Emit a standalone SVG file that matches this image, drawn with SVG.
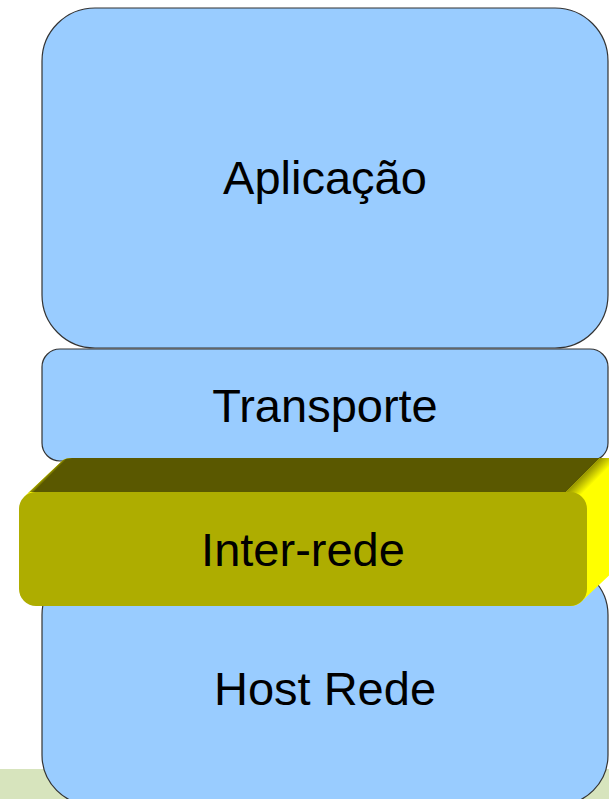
<svg xmlns="http://www.w3.org/2000/svg" width="609" height="799" viewBox="0 0 609 799">
<defs>
<style>
.layer{fill:#99ccff;stroke:#333333;stroke-width:1.2}
.lbl{font-family:"Liberation Sans",Arial,sans-serif;font-size:47px;fill:#000000;text-anchor:middle}
</style>
<linearGradient id="bevR" gradientUnits="userSpaceOnUse" x1="578" y1="470" x2="592" y2="484">
<stop offset="0" stop-color="#5a5800"/>
<stop offset="1" stop-color="#ffff00"/>
</linearGradient>
<linearGradient id="bevL" gradientUnits="userSpaceOnUse" x1="42" y1="474" x2="47" y2="479">
<stop offset="0" stop-color="#ffff00"/>
<stop offset="1" stop-color="#5a5800"/>
</linearGradient>
</defs>
<rect width="609" height="799" fill="#ffffff"/>
<rect x="0" y="769" width="609" height="30" fill="#d7e4bd"/>
<g id="aplicacao">
<rect class="layer" x="42" y="8" width="566" height="340" rx="53" ry="53"/>
<text class="lbl" x="325" y="194">Aplicação</text>
</g>
<g id="transporte">
<rect class="layer" x="42" y="349" width="566" height="112" rx="18" ry="18"/>
<text class="lbl" x="325" y="422">Transporte</text>
</g>
<g id="host-rede">
<rect class="layer" x="42" y="565" width="566" height="240" rx="50" ry="50"/>
<text class="lbl" x="325" y="705">Host Rede</text>
</g>
<g id="inter-rede">
<path d="M24,497 L62,461 Q65,458 72,458 L640,458 L640,540 L618,567 L582,601 Q578,606 570,606 L40,606 Z" fill="#ffff00"/>
<path d="M27,494 L63,460 Q66,458 72,458 L600,458 L566,492 L30,492 Z" fill="url(#bevL)"/>
<path d="M566,492 L600,458 L620,458 L586,498 L580,494 Z" fill="url(#bevR)"/>
<rect x="19" y="492" width="568" height="114" rx="17" ry="17" fill="#aead00"/>
<text class="lbl" x="303" y="566">Inter-rede</text>
</g>
<g id="connectors"/>
</svg>
